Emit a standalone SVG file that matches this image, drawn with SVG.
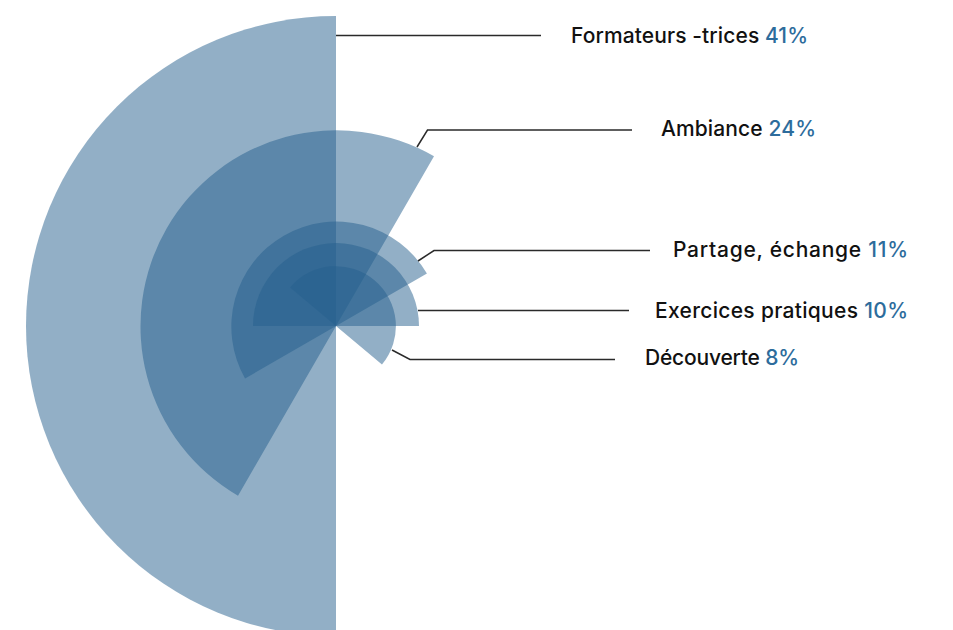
<svg xmlns="http://www.w3.org/2000/svg" width="953" height="630" viewBox="0 0 953 630">
<style>
.sec{fill:#255f8d;fill-opacity:0.5;stroke:none}
.lead{fill:none;stroke:#2a2a2a;stroke-width:1.5}
.lbl{font-family:Inter,"Liberation Sans",sans-serif;font-size:21px;font-weight:500;fill:#111}
.pct{fill:#2d6c9c}
</style>
<rect width="953" height="630" fill="#fff"/>
<g id="formateurs">
<path class="sec" d="M336,326 L336,16 A310,310 0 0 0 336,636 Z"/>
<text class="lbl" x="571" y="43" textLength="237" lengthAdjust="spacing">Formateurs -trices <tspan class="pct">41%</tspan></text>
</g>
<g id="ambiance">
<path class="sec" d="M336,326 L434,156.26 A196,196 0 0 0 238,495.74 Z"/>
<text class="lbl" x="661" y="136" textLength="155" lengthAdjust="spacing">Ambiance <tspan class="pct">24%</tspan></text>
</g>
<g id="partage">
<path class="sec" d="M336,326 L426.93,273.5 A105,105 0 0 0 245.07,378.5 Z"/>
<text class="lbl" x="673" y="257" textLength="235" lengthAdjust="spacing">Partage, échange <tspan class="pct">11%</tspan></text>
</g>
<g id="exercices">
<path class="sec" d="M336,326 L419,326 A83,83 0 0 0 253,326 Z"/>
<text class="lbl" x="655" y="318" textLength="253" lengthAdjust="spacing">Exercices pratiques <tspan class="pct">10%</tspan></text>
</g>
<g id="decouverte">
<path class="sec" d="M336,326 L381.96,364.57 A60,60 0 0 0 290.04,287.43 Z"/>
<text class="lbl" x="645" y="365" textLength="154" lengthAdjust="spacing">Découverte <tspan class="pct">8%</tspan></text>
</g>
<g id="connectors">
<polyline class="lead" points="336,35.5 541,35.5"/>
<polyline class="lead" points="417,147 427.5,130 632,130"/>
<polyline class="lead" points="418,261 434,250.5 650,250.5"/>
<polyline class="lead" points="418,310.5 629,310.5"/>
<polyline class="lead" points="392,350 410,359.5 615,359.5"/>
</g>
</svg>
